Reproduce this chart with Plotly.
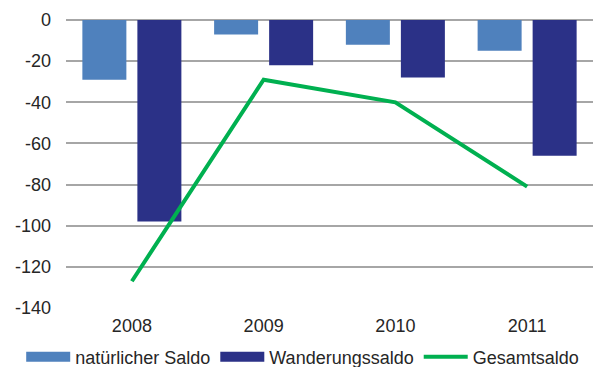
import plotly.graph_objects as go

# Jahre und Salden
years = ["2008", "2009", "2010", "2011"]
natuerlicher_saldo = [-29, -7, -12, -15]
wanderungssaldo = [-98, -22, -28, -66]
gesamtsaldo = [-127, -29, -40, -81]

y_ticks = [0, -20, -40, -60, -80, -100, -120, -140]

c_nat = "#4f81bd"
c_wan = "#2b3187"
c_ges = "#00b050"
font_family = "Liberation Sans, Arial, sans-serif"
text_color = "#262626"

fig = go.Figure()

fig.add_trace(go.Bar(
    x=years, y=natuerlicher_saldo, name="natürlicher Saldo",
    marker=dict(color=c_nat, line=dict(width=0)), showlegend=False,
))
fig.add_trace(go.Bar(
    x=years, y=wanderungssaldo, name="Wanderungssaldo",
    marker=dict(color=c_wan, line=dict(width=0)), showlegend=False,
))
fig.add_trace(go.Scatter(
    x=years, y=gesamtsaldo, name="Gesamtsaldo", mode="lines",
    line=dict(color=c_ges, width=4), showlegend=False,
))

# Legendeneinträge mit breiten Farbfeldern
fig.add_trace(go.Scatter(x=[None], y=[None], mode="lines", name="natürlicher Saldo",
                         line=dict(color=c_nat, width=12)))
fig.add_trace(go.Scatter(x=[None], y=[None], mode="lines", name="Wanderungssaldo",
                         line=dict(color=c_wan, width=12)))
fig.add_trace(go.Scatter(x=[None], y=[None], mode="lines", name="Gesamtsaldo",
                         line=dict(color=c_ges, width=4)))

fig.update_layout(
    width=611, height=367,
    margin=dict(l=66, r=18, t=20, b=59, pad=0, autoexpand=False),
    paper_bgcolor="white", plot_bgcolor="white",
    font=dict(family=font_family, size=18, color=text_color),
    barmode="group", bargap=0.165, bargroupgap=0.2,
    legend=dict(
        orientation="h", xref="paper", yref="paper",
        x=-0.085, xanchor="left", y=-0.17, yanchor="middle",
        font=dict(size=18), itemwidth=44, tracegroupgap=0,
        bgcolor="rgba(0,0,0,0)", borderwidth=0,
    ),
)

fig.update_xaxes(
    type="category", showgrid=False, showline=False, zeroline=False,
    ticks="", ticklabelstandoff=5,
)
fig.update_yaxes(
    range=[-140, 0], tickvals=y_ticks, ticktext=[str(v) for v in y_ticks],
    showgrid=True, gridcolor="#a6a6a6", gridwidth=1.5,
    zeroline=True, zerolinecolor="#a6a6a6", zerolinewidth=1.5,
    showline=False, ticks="", ticklabelstandoff=14,
)

fig.write_html("out.html")
